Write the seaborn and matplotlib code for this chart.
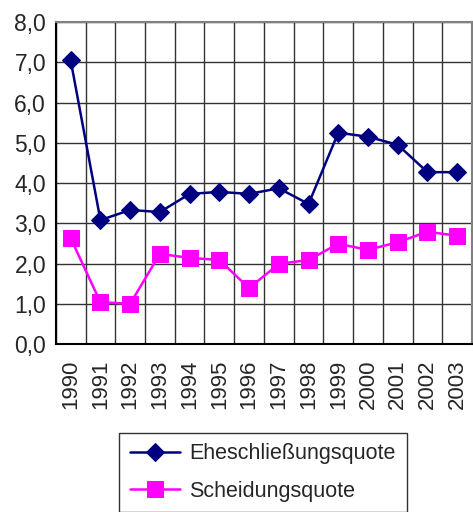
import numpy as np
import pandas as pd
import matplotlib
matplotlib.use("Agg")
import matplotlib.pyplot as plt
import seaborn as sns

# --- Daten ---
jahre = ['1990', '1991', '1992', '1993', '1994', '1995', '1996',
         '1997', '1998', '1999', '2000', '2001', '2002', '2003']
ehe = [7.05, 3.08, 3.33, 3.28, 3.73, 3.78, 3.73,
       3.87, 3.48, 5.25, 5.15, 4.95, 4.27, 4.27]
scheidung = [2.63, 1.04, 1.00, 2.24, 2.14, 2.09, 1.39,
             1.99, 2.09, 2.49, 2.34, 2.53, 2.79, 2.69]

sns.set_style("white")
plt.rcParams['font.family'] = ['Liberation Sans', 'DejaVu Sans']

df = pd.DataFrame({'pos': np.arange(len(jahre)),
                   'Eheschließungsquote': ehe,
                   'Scheidungsquote': scheidung})

fig = plt.figure(figsize=(4.73, 5.12), dpi=100)
ax = fig.add_axes([0.118, 0.328, 0.880, 0.629])

sns.lineplot(data=df, x='pos', y='Eheschließungsquote', ax=ax, color='#000080',
             marker='D', markersize=9, linewidth=1.8, markeredgecolor='#000080',
             label='Eheschließungsquote')
sns.lineplot(data=df, x='pos', y='Scheidungsquote', ax=ax, color='#FF00FF',
             marker='s', markersize=11, linewidth=1.8, markeredgecolor='#FF00FF',
             label='Scheidungsquote')

ax.set_xlim(-0.5, len(jahre) - 0.5)
ax.set_ylim(0, 8)
ax.set_yticks(np.arange(0, 9, 1))
ax.set_yticklabels([f"{v:.1f}".replace('.', ',') for v in np.arange(0, 9, 1)], fontsize=16.5)
ax.set_xticks(np.arange(len(jahre) + 1) - 0.5)
ax.set_xticklabels([])
ax.set_xticks(np.arange(len(jahre)), minor=True)
ax.set_xticklabels(jahre, minor=True, rotation=90, fontsize=16)
ax.tick_params(axis='x', which='major', length=5, width=1, color='black', direction='out')
ax.tick_params(axis='x', which='minor', length=0, pad=11)
ax.tick_params(axis='y', length=5, width=1, color='black', direction='out', pad=2)
ax.set_xlabel('')
ax.set_ylabel('')

ax.grid(True, which='major', color='#333333', linewidth=1)
ax.set_axisbelow(True)
for s in ['left', 'bottom']:
    ax.spines[s].set_color('black')
    ax.spines[s].set_linewidth(1.5)
for s in ['top', 'right']:
    ax.spines[s].set_color('#808080')
    ax.spines[s].set_linewidth(1.5)
    ax.spines[s].set_visible(True)

leg = ax.legend(loc='upper center', bbox_to_anchor=(0.556, 0.156 + 0.02),
                bbox_transform=fig.transFigure, fontsize=15.5, frameon=True,
                fancybox=False, edgecolor='black', handlelength=2.3,
                labelspacing=0.75, borderpad=0.5, handletextpad=0.45)
leg.get_frame().set_linewidth(1)

fig.savefig('out.png', dpi=100)
